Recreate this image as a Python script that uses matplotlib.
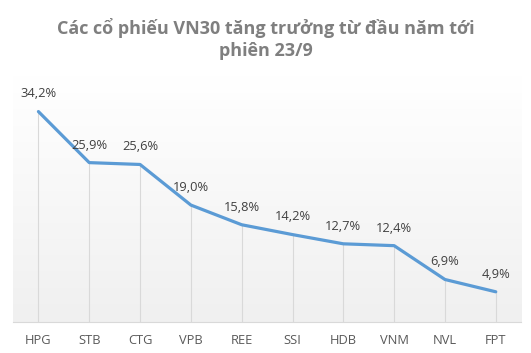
import numpy as np
import matplotlib.pyplot as plt

tickers = ['HPG', 'STB', 'CTG', 'VPB', 'REE', 'SSI', 'HDB', 'VNM', 'NVL', 'FPT']
growth = [34.2, 25.9, 25.6, 19.0, 15.8, 14.2, 12.7, 12.4, 6.9, 4.9]
labels = ['34,2%', '25,9%', '25,6%', '19,0%', '15,8%', '14,2%', '12,7%', '12,4%', '6,9%', '4,9%']

plt.rcParams['font.family'] = ['Open Sans', 'DejaVu Sans']

fig = plt.figure(figsize=(5.31, 3.53), dpi=100)
ax = fig.add_axes([0.0245, 0.088, 0.957, 0.697])

x = np.arange(len(tickers))

# soft vertical gradient behind the plot
grad = np.linspace(0, 1, 100).reshape(-1, 1)
ax.imshow(grad, extent=[-0.5, 9.5, 0, 40], aspect='auto', cmap=plt.matplotlib.colors.LinearSegmentedColormap.from_list('g', ['#f0f0f0', '#ffffff']),
          origin='lower', zorder=0)

ax.vlines(x, 0, growth, color='#d9d9d9', linewidth=0.8, zorder=1)
ax.plot(x, growth, color='#5b9bd5', linewidth=2.3, solid_capstyle='round', zorder=3)

for xi, v, lab in zip(x, growth, labels):
    ax.annotate(lab, (xi, v), xytext=(0, 8), textcoords='offset points',
                ha='center', va='bottom', fontsize=9.3, color='#404040')

ax.set_xlim(-0.5, 9.5)
ax.set_ylim(0, 40)
ax.set_xticks(x)
ax.set_xticklabels(tickers, fontsize=9.3, color='#595959')
ax.set_yticks([])
ax.tick_params(axis='x', length=0, pad=9)
for s in ['top', 'left', 'right']:
    ax.spines[s].set_visible(False)
ax.spines['bottom'].set_color('#d9d9d9')

fig.text(0.5, 0.95, 'Các cổ phiếu VN30 tăng trưởng từ đầu năm tới\nphiên 23/9',
         ha='center', va='top', fontsize=13, fontweight='bold', color='#7f7f7f',
         linespacing=1.3)

fig.savefig('out.png', dpi=100)
